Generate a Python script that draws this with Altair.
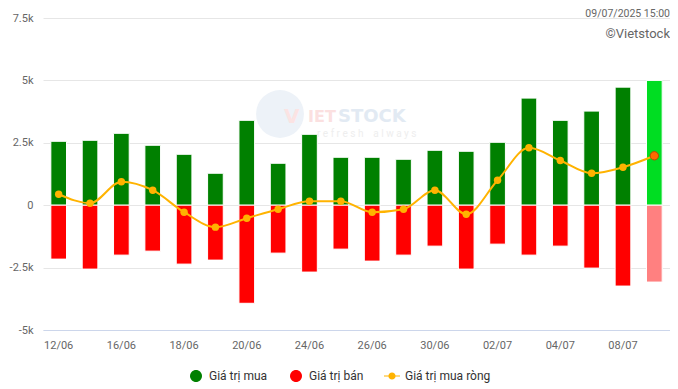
import altair as alt
import pandas as pd

# ---- data ----
dates = ["12/06", "13/06", "16/06", "17/06", "18/06", "19/06", "20/06", "23/06",
         "24/06", "25/06", "26/06", "27/06", "30/06", "01/07", "02/07", "03/07",
         "04/07", "07/07", "08/07", "09/07"]
buy = [2560, 2600, 2880, 2400, 2040, 1280, 3400, 1680, 2840, 1920,
       1920, 1840, 2200, 2160, 2520, 4290, 3400, 3770, 4730, 5000]
sell = [2160, 2560, 2000, 1840, 2360, 2200, 3930, 1920, 2680, 1760,
        2240, 2000, 1640, 2560, 1560, 2000, 1640, 2520, 3240, 3080]
net = [440, 80, 940, 600, -280, -880, -520, -160, 160, 160,
       -280, -160, 600, -360, 1000, 2300, 1790, 1280, 1520, 1980]
series = ["Giá trị mua", "Giá trị bán", "Giá trị mua ròng"]
y_ticks = [-5000, -2500, 0, 2500, 5000, 7500]
x_labels = dates[::2]
stamp = "09/07/2025 15:00"
brand = "©Vietstock"

GREEN, RED, ORANGE = "#008000", "#ff0000", "#ffb300"
LAST_GREEN, LAST_RED, LAST_PT = "#00dd22", "#ff8080", "#ff6a00"
LAST = dates[-1]

bars_df = pd.DataFrame({
    "date": dates * 2,
    "series": [series[0]] * len(dates) + [series[1]] * len(dates),
    "value": buy + [-v for v in sell],
})
net_df = pd.DataFrame({"date": dates, "series": series[2], "value": net})
legend_df = pd.DataFrame({"series": series})
one = pd.DataFrame({"t": [0]})

W, H = 627, 312

x_enc = alt.X(
    "date:N", sort=dates, title=None,
    scale=alt.Scale(domain=dates, paddingInner=0.5, paddingOuter=0.25),
    axis=alt.Axis(values=x_labels, labelAngle=0, ticks=False, tickSize=0,
                  labelPadding=9, labelFontSize=11, labelColor="#666666",
                  domainColor="#ccd6eb", domainWidth=1, grid=False,
                  labelFont="Roboto"),
)
y_scale = alt.Scale(domain=[-5000, 7500], nice=False, zero=False)
y_enc = alt.Y(
    "value:Q", title=None, scale=y_scale,
    axis=alt.Axis(values=y_ticks, labelExpr="datum.value == 0 ? '0' : (datum.value/1000) + 'k'",
                  ticks=False, tickSize=0, domain=False, labelPadding=10,
                  labelFontSize=11, labelColor="#666666", gridColor="#e6e6e6",
                  labelFont="Roboto"),
)

CIRC = "M-0.75,0A0.75,0.75 0 1,1 0.75,0A0.75,0.75 0 1,1 -0.75,0Z"
LINEDOT = ("M-1,-0.07L-0.42,-0.07L-0.42,0.07L-1,0.07Z"
           "M0.42,-0.07L1,-0.07L1,0.07L0.42,0.07Z"
           "M-0.45,0A0.45,0.45 0 1,1 0.45,0A0.45,0.45 0 1,1 -0.45,0Z")

legend = alt.Legend(
    orient="none", legendX=145, legendY=350, direction="horizontal", title=None,
    symbolSize=256, labelOffset=5, columnPadding=20, labelFontSize=12,
    labelColor="#333333", labelFont="Roboto", padding=0, symbolStrokeWidth=0,
    symbolOpacity=1,
)

# watermark (very faint)
NB = "\u00a0"
sub_text = (NB.join("refresh")) + NB * 4 + (NB.join("always"))
wm_circle = alt.Chart(one).mark_point(filled=True, size=2290, color="#edf2f8", opacity=1).encode(
    x=alt.value(237), y=alt.value(96))
wm_v = alt.Chart(one).mark_text(text="V", font="DejaVu Sans", fontSize=20, fontWeight="bold",
                                color="#fbe3e3", align="left", baseline="middle").encode(
    x=alt.value(241), y=alt.value(99))
wm_iet = alt.Chart(one).mark_text(text="IET", font="DejaVu Sans", fontSize=16, fontWeight="bold",
                                  color="#fbe0e0", align="left", baseline="middle").encode(
    x=alt.value(265), y=alt.value(99))
wm_stock = alt.Chart(one).mark_text(text="STOCK", font="DejaVu Sans", fontSize=18, fontWeight="bold",
                                    color="#e2eaf3", align="left", baseline="middle").encode(
    x=alt.value(295), y=alt.value(99))
wm_sub = alt.Chart(one).mark_text(text=sub_text, font="Roboto", fontSize=10, color="#eeeeee",
                                  align="left", baseline="middle").encode(
    x=alt.value(274), y=alt.value(116))

bar_color = alt.condition(alt.datum.series == series[0], alt.value(GREEN), alt.value(RED))
bars = alt.Chart(bars_df).mark_bar(stroke="white", strokeWidth=1).encode(
    x=x_enc, y=y_enc, color=bar_color)
last_buy = alt.Chart(bars_df).transform_filter(
    (alt.datum.date == LAST) & (alt.datum.value > 0)
).mark_bar(stroke="white", strokeWidth=1, color=LAST_GREEN).encode(x=x_enc, y=y_enc)
last_sell = alt.Chart(bars_df).transform_filter(
    (alt.datum.date == LAST) & (alt.datum.value < 0)
).mark_bar(stroke="white", strokeWidth=1, color=LAST_RED).encode(x=x_enc, y=y_enc)

line = alt.Chart(net_df).mark_line(strokeWidth=2, interpolate="monotone", color=ORANGE).encode(
    x=x_enc, y=y_enc)
pts = alt.Chart(net_df).transform_filter(alt.datum.date != LAST).mark_point(
    filled=True, size=55, color=ORANGE, opacity=1).encode(x=x_enc, y=y_enc)
last_pt = alt.Chart(net_df).transform_filter(alt.datum.date == LAST).mark_point(
    filled=True, size=70, color=LAST_PT, stroke="#b34a00", strokeWidth=1, opacity=1).encode(
    x=x_enc, y=y_enc)

# legend-only layer (no visible marks)
legend_layer = alt.Chart(legend_df).transform_filter("false").mark_point(
    filled=True, opacity=1).encode(
    color=alt.Color("series:N", scale=alt.Scale(domain=series, range=[GREEN, RED, ORANGE]),
                    legend=legend),
    shape=alt.Shape("series:N", scale=alt.Scale(domain=series, range=[CIRC, CIRC, LINEDOT]),
                    legend=legend),
)

stamp_txt = alt.Chart(one).mark_text(text=stamp, font="Roboto", fontSize=10.5, color="#666666",
                                     align="right", baseline="middle").encode(
    x=alt.value(W), y=alt.value(-4.5))
brand_txt = alt.Chart(one).mark_text(text=brand, font="Roboto", fontSize=13, color="#666666",
                                     align="right", baseline="middle").encode(
    x=alt.value(W), y=alt.value(16))

chart = alt.layer(
    wm_circle, wm_v, wm_iet, wm_stock, wm_sub,
    bars, last_buy, last_sell, line, pts, last_pt, legend_layer, stamp_txt, brand_txt,
).properties(
    width=W, height=H,
    padding={"left": 35, "top": 10, "right": 0, "bottom": 56},
    autosize=alt.AutoSizeParams(type="none"),
).configure(font="Roboto").configure_view(strokeWidth=0)

chart.save("out.html", embed_options={"renderer": "svg", "actions": False})
